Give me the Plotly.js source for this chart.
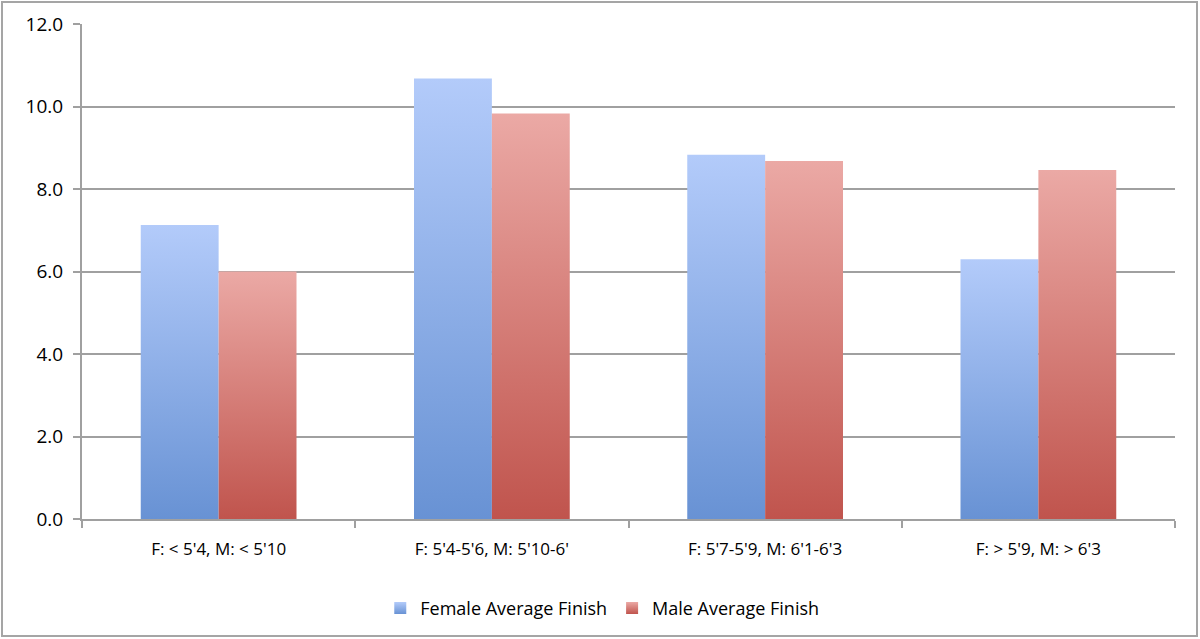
<!DOCTYPE html>
<html>
<head>
<meta charset="utf-8">
<script src="https://cdn.plot.ly/plotly-3.0.1.min.js"></script>
<style>
  body { margin: 0; background: #fff; }
  #wrap { position: relative; width: 1200px; height: 639px; }
  #chart { width: 1200px; height: 639px; }
  #frame { position: absolute; left: 1px; top: 1px; right: 2px; bottom: 2px;
           border: 2px solid #a5a5a5; pointer-events: none; }
</style>
</head>
<body>
<div id="wrap">
  <div id="chart"></div>
  <div id="frame"></div>
</div>
<script>
// tallas (categorías) y promedios de llegada
const categories = ["F: < 5'4, M: < 5'10", "F: 5'4-5'6, M: 5'10-6'", "F: 5'7-5'9, M: 6'1-6'3", "F: > 5'9, M: > 6'3"];
const femaleAvg = [7.13, 10.68, 8.83, 6.30];
const maleAvg = [6.00, 9.83, 8.68, 8.46];
const yTicks = [0, 2, 4, 6, 8, 10, 12];

const fam = 'Open Sans, Liberation Sans, sans-serif';

const data = [
  { x: categories, y: femaleAvg, type: 'bar', name: 'Female Average Finish',
    marker: { color: '#8eaeea' }, hoverinfo: 'y' },
  { x: categories, y: maleAvg, type: 'bar', name: 'Male Average Finish',
    marker: { color: '#d7807a' }, hoverinfo: 'y' }
];

const layout = {
  width: 1200, height: 639,
  margin: { l: 82, r: 25, t: 24, b: 120 },
  paper_bgcolor: '#fff', plot_bgcolor: '#fff',
  font: { family: fam, size: 17, color: '#000' },
  barmode: 'group', bargap: 0.43, bargroupgap: 0,
  showlegend: true,
  legend: { orientation: 'h', x: 0.476, xanchor: 'center', y: -0.143, yanchor: 'top',
            font: { family: fam, size: 18, color: '#000' }, itemwidth: 30 },
  xaxis: {
    type: 'category', range: [-0.5, 3.5],
    showgrid: false, showline: true, linecolor: '#a0a0a0', linewidth: 2,
    ticks: 'outside', tickson: 'boundaries', ticklen: 7, tickcolor: '#a0a0a0', tickwidth: 2,
    ticklabelstandoff: 14,
    tickfont: { family: fam, size: 17, color: '#000' }, fixedrange: true
  },
  yaxis: {
    range: [0, 12], tickvals: yTicks, ticktext: yTicks.map(v => v.toFixed(1)),
    showgrid: true, gridcolor: '#a0a0a0', gridwidth: 2,
    showline: true, linecolor: '#a0a0a0', linewidth: 2, zeroline: false,
    ticks: 'outside', ticklen: 7, tickcolor: '#a0a0a0', tickwidth: 2,
    ticklabelstandoff: 6,
    tickfont: { family: fam, size: 19, color: '#000' }, fixedrange: true
  }
};

// degradado vertical en las barras (estilo Excel/Numbers)
const gradients = [
  { id: 'gFemale', top: '#b3cbfa', bottom: '#6892d4' },
  { id: 'gMale', top: '#eba9a5', bottom: '#c0544d' }
];

function applyGradients(gd) {
  const svg = gd.querySelector('svg.main-svg');
  if (!svg) return;
  let defs = svg.querySelector('defs');
  if (!defs) { defs = document.createElementNS('http://www.w3.org/2000/svg', 'defs'); svg.prepend(defs); }
  gradients.forEach(g => {
    if (defs.querySelector('#' + g.id)) return;
    const lg = document.createElementNS('http://www.w3.org/2000/svg', 'linearGradient');
    lg.setAttribute('id', g.id);
    lg.setAttribute('x1', '0'); lg.setAttribute('y1', '0');
    lg.setAttribute('x2', '0'); lg.setAttribute('y2', '1');
    [['0', g.top], ['1', g.bottom]].forEach(([o, c]) => {
      const s = document.createElementNS('http://www.w3.org/2000/svg', 'stop');
      s.setAttribute('offset', o); s.setAttribute('stop-color', c);
      lg.appendChild(s);
    });
    defs.appendChild(lg);
  });
  gd.querySelectorAll('.barlayer .trace.bars').forEach((tr, i) => {
    tr.querySelectorAll('path').forEach(p => { p.style.fill = 'url(#' + gradients[i].id + ')'; });
  });
  gd.querySelectorAll('.legend .traces').forEach((tr, i) => {
    tr.querySelectorAll('.legendpoints path').forEach(p => { p.style.fill = 'url(#' + gradients[i].id + ')'; });
  });
}

const gd = document.getElementById('chart');
Plotly.newPlot(gd, data, layout, { displayModeBar: false, staticPlot: true }).then(() => {
  applyGradients(gd);
  gd.on('plotly_afterplot', () => applyGradients(gd));
});
</script>
</body>
</html>
